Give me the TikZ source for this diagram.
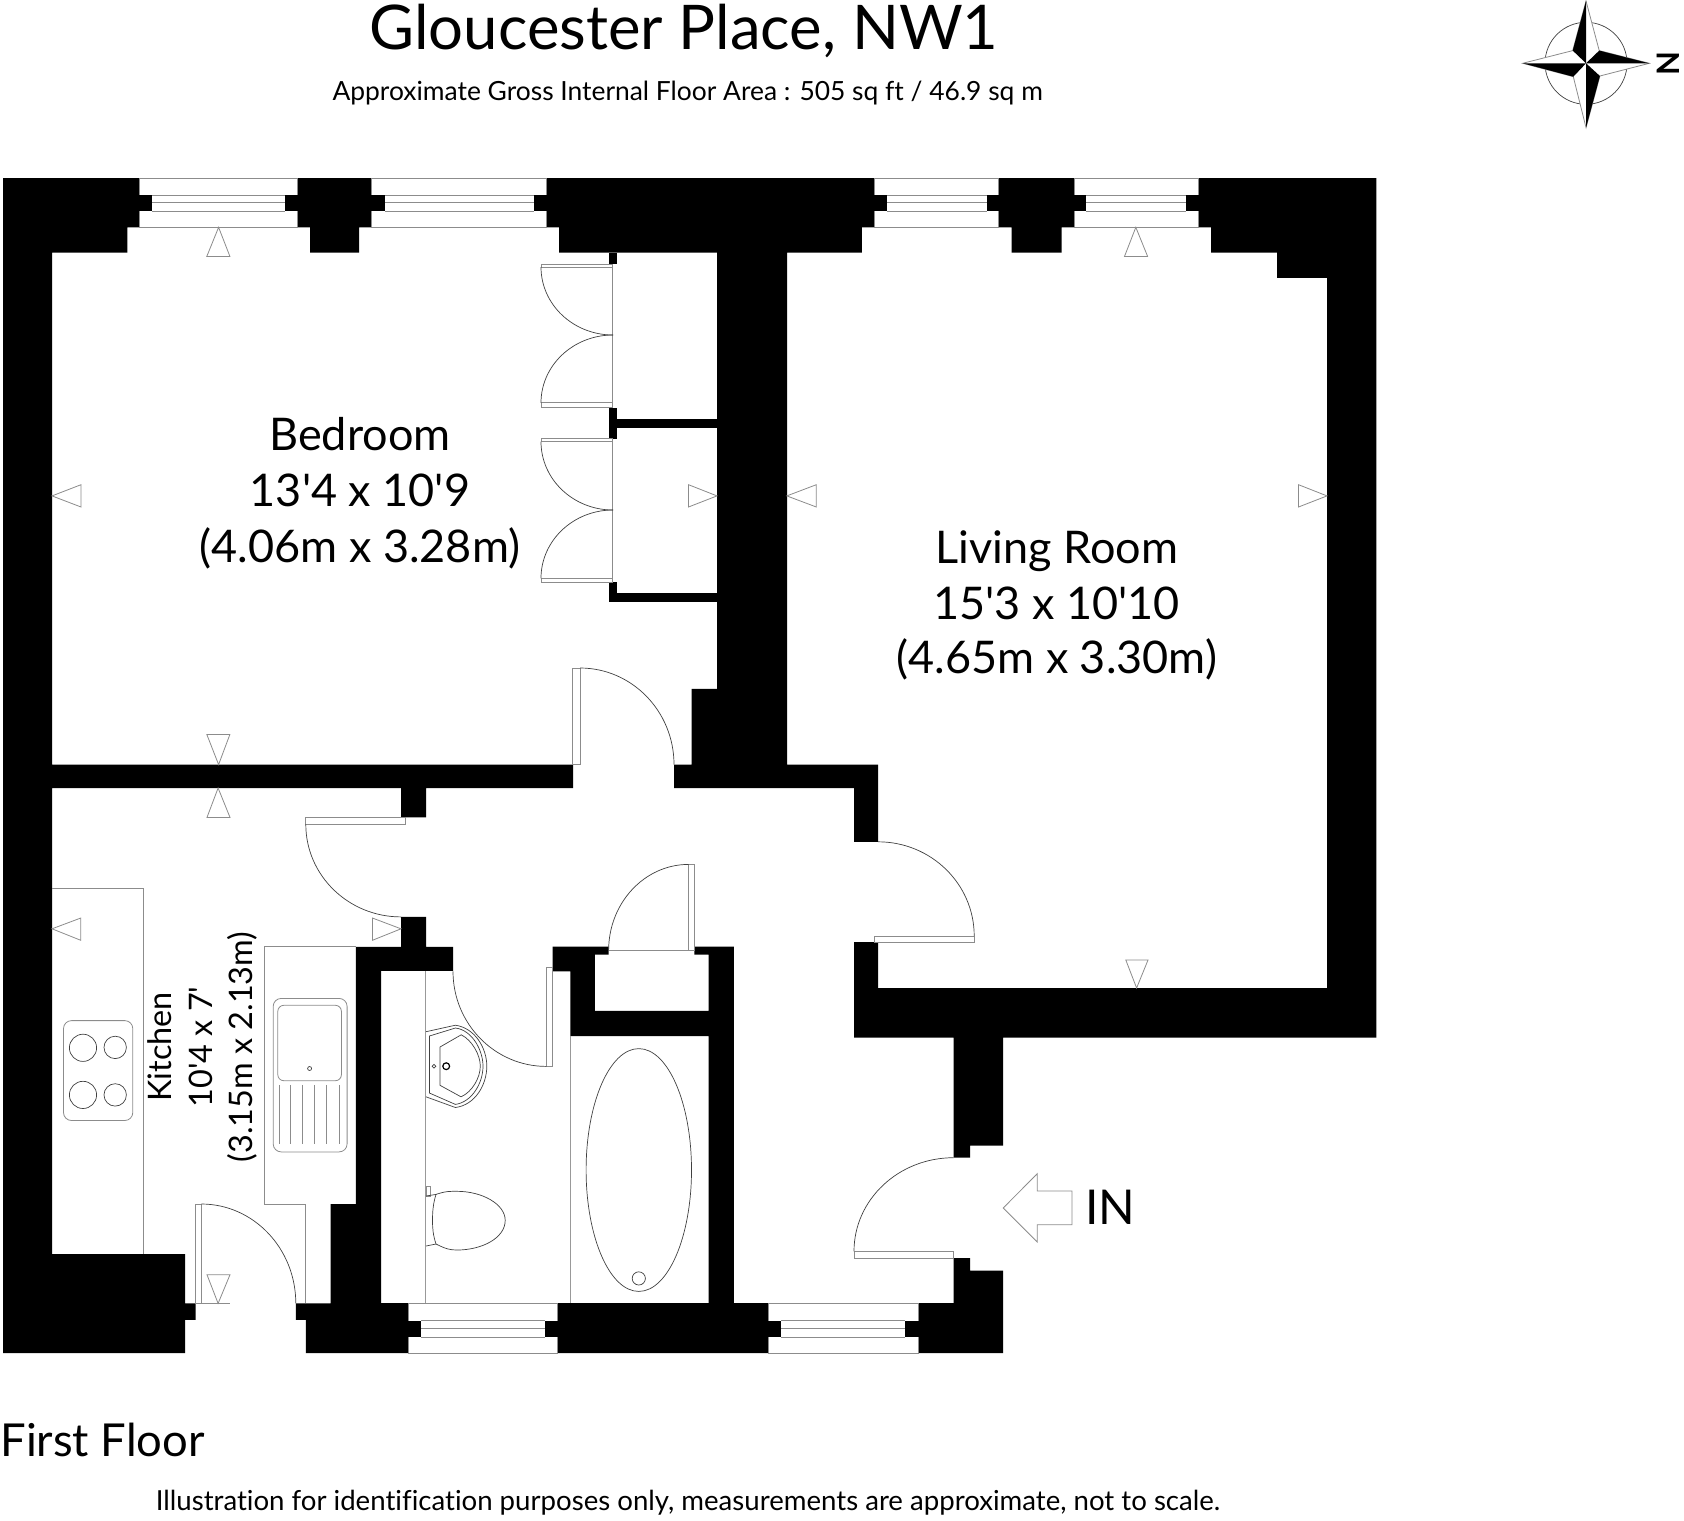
\documentclass[tikz,border=0pt]{standalone}
\usepackage{fontspec}
\setmainfont{Lato}[Ligatures={TeXOff,NoCommon}]
\tikzset{
	wall/.style={fill=black, draw=none},
	fine/.style={draw=black!45, line width=0.4pt},
	arcline/.style={draw=black!75, line width=0.35pt},
	glass/.style={fill=white, draw=black!45, line width=0.4pt},
	marker/.style={fine, fill=white, line join=miter},
	room/.style={anchor=base, inner sep=0pt, font=\fontsize{22.5}{27}\selectfont},
	kitchenlabel/.style={anchor=base, inner sep=0pt, rotate=90, font=\fontsize{16.2}{19}\selectfont}
}
\begin{document}
\begin{tikzpicture}[x=0.5pt, y=-0.5pt]
\useasboundingbox (0,0) rectangle (1684,1520);

\fill[wall] (3,178) -- (1376.4,178) -- (1376.4,1037.5) -- (1003.2,1037.5) -- (1003.2,1145.5) -- (970,1145.5) -- (970,1157.7) -- (953.5,1157.7) -- (953.5,1037.5) -- (854,1037.5) -- (854,942) -- (878,942) -- (878,988) -- (1327,988) -- (1327,277.8) -- (1277,277.8) -- (1277,252.5) -- (1211,252.5) -- (1211,227.3) -- (1061.7,227.3) -- (1061.7,252.5) -- (1011.7,252.5) -- (1011.7,227.3) -- (861.9,227.3) -- (861.9,252.5) -- (787,252.5) -- (787,764.6) -- (878,764.6) -- (878,841.8) -- (854,841.8) -- (854,788) -- (674,788) -- (674,764.6) -- (691.7,764.6) -- (691.7,688.8) -- (717,688.8) -- (717,252.5) -- (559,252.5) -- (559,227.3) -- (359,227.3) -- (359,252.5) -- (310,252.5) -- (310,227.3) -- (127.3,227.3) -- (127.3,252.5) -- (52,252.5) -- (52,764.6) -- (573,764.6) -- (573,788) -- (426,788) -- (426,817.4) -- (401,817.4) -- (401,788) -- (52,788) -- (52,1254) -- (185.2,1254) -- (185.2,1303.4) -- (195.6,1303.4) -- (195.6,1319.9) -- (185.2,1319.9) -- (185.2,1353) -- (3,1353) -- cycle;
\fill[wall] (401,916.9) -- (426,916.9) -- (426,946.8) -- (453,946.8) -- (453,970.9) -- (381.2,970.9) -- (381.2,1303) -- (708.5,1303) -- (708.5,1036) -- (570.4,1036) -- (570.4,971.3) -- (552.6,971.3) -- (552.6,946.5) -- (608.5,946.5) -- (608.5,954.6) -- (594.9,954.6) -- (594.9,1010.9) -- (708.5,1010.9) -- (708.5,954.6) -- (694.4,954.6) -- (694.4,946.5) -- (733.8,946.5) -- (733.8,1303) -- (953.5,1303) -- (953.5,1258) -- (970,1258) -- (970,1270.6) -- (1003.2,1270.6) -- (1003.2,1353) -- (305.8,1353) -- (305.8,1319.9) -- (295.8,1319.9) -- (295.8,1303.4) -- (330.7,1303.4) -- (330.7,1204) -- (355.9,1204) -- (355.9,946.8) -- (401,946.8) -- cycle;
\fill[wall] (608.5,252.5) rectangle (617,264);
\fill[wall] (608.5,408) rectangle (617,438.7);
\fill[wall] (617,418.8) rectangle (717,427.5);
\fill[wall] (608.5,582) rectangle (617,601.5);
\fill[wall] (617,593.3) rectangle (717,601.5);

\foreach \a/\b/\c/\d in {139.6/152/284.6/297.5, 371.6/385/534.4/546, 874.2/887.1/986.5/998.8, 1074/1086.4/1185.7/1198}{
	\draw[glass] (\a,178) rectangle (\d,227.3);
	\fill[wall] ([xshift=-1pt]\a,195) rectangle (\b,211);
	\fill[wall] (\c,195) rectangle ([xshift=1pt]\d,211);
	\draw[fine] (\b,195) -- (\c,195) (\b,211) -- (\c,211) (\b,202.8) -- (\c,202.8);
}
\foreach \a/\b/\c/\d in {408/421/545/557.6, 768.6/781/905.4/918.2}{
	\draw[glass] (\a,1303) rectangle (\d,1353);
	\fill[wall] ([xshift=-1pt]\a,1320.5) rectangle (\b,1337.2);
	\fill[wall] (\c,1320.5) rectangle ([xshift=1pt]\d,1337.2);
	\draw[fine] (\b,1320.5) -- (\c,1320.5) (\b,1337.2) -- (\c,1337.2) (\b,1328.5) -- (\c,1328.5);
}

\draw[fine] (612.8,264) -- (612.8,408) (612.8,438.7) -- (612.8,582);
\draw[fine] (541,264) rectangle (612.8,267) (541,402.8) rectangle (612.8,407.5);
\draw[fine] (541,438.7) rectangle (612.8,441.6) (541,578.3) rectangle (612.8,582);
\draw[arcline] (541,267) arc[start angle=180, end angle=270, x radius=36pt, y radius=34pt];
\draw[arcline] (613,335) arc[start angle=90, end angle=180, x radius=36pt, y radius=33.9pt];
\draw[arcline] (541,441.6) arc[start angle=180, end angle=270, x radius=36pt, y radius=34.2pt];
\draw[arcline] (613,510) arc[start angle=90, end angle=180, x radius=36pt, y radius=34.15pt];

\draw[fine] (572.5,668) rectangle (580,764.6);
\draw[arcline] (580,668) arc[start angle=90, end angle=0, x radius=47pt, y radius=48.3pt];
\draw[fine] (305.8,817.4) rectangle (405.7,824.3);
\draw[arcline] (305.8,824.3) arc[start angle=180, end angle=270, x radius=47.6pt, y radius=46.3pt];
\draw[fine] (874.3,936) rectangle (974.2,942);
\draw[arcline] (878,841.8) arc[start angle=90, end angle=0, x radius=48.1pt, y radius=47.1pt];
\draw[fine] (688.6,864.4) rectangle (694.4,950.6) (608.5,950.6) -- (688.6,950.6);
\draw[arcline] (688.6,864.4) arc[start angle=90, end angle=180, x radius=40pt, y radius=43.1pt];
\draw[fine] (854,1251.3) rectangle (953.5,1258);
\draw[arcline] (953.5,1157.7) arc[start angle=90, end angle=180, x radius=49.75pt, y radius=46.8pt];
\draw[fine] (546.4,966.9) rectangle (552.6,1066.4);
\draw[arcline] (453,971.3) arc[start angle=180, end angle=270, x radius=46.7pt, y radius=47.55pt];
\draw[fine] (195.6,1204) rectangle (201.3,1303.4);
\draw[arcline] (201.3,1204) arc[start angle=90, end angle=0, x radius=47.25pt, y radius=49.7pt];

\draw[marker] (218.6,227.3) -- (206.8,256.4) -- (229.9,256.4) -- cycle;
\draw[marker] (1135.8,227.3) -- (1124.5,256.4) -- (1147.6,256.4) -- cycle;
\draw[marker] (52,495.9) -- (81,484.7) -- (81,507) -- cycle;
\draw[marker] (717,495.9) -- (688.5,484.7) -- (688.5,507) -- cycle;
\draw[marker] (786.8,495.9) -- (816.3,484.7) -- (816.3,507) -- cycle;
\draw[marker] (1327,495.9) -- (1298.5,484.7) -- (1298.5,507) -- cycle;
\draw[marker] (218.6,764.6) -- (206.8,734.4) -- (229.9,734.4) -- cycle;
\draw[marker] (218.1,788) -- (207,817.4) -- (230,817.4) -- cycle;
\draw[marker] (52,928.8) -- (80.8,918) -- (80.8,940.3) -- cycle;
\draw[marker] (401,928.8) -- (372.4,918) -- (372.4,940.3) -- cycle;
\draw[marker] (218.1,1303.4) -- (207,1274.7) -- (230,1274.7) -- cycle;
\draw[fine] (201.3,1303.4) -- (230,1303.4);
\draw[marker] (1136.6,988) -- (1125.8,960) -- (1148,960) -- cycle;

\draw[fine] (52,888.6) -- (143.5,888.6) -- (143.5,1254);
\draw[fine] (355.9,946.8) -- (264.8,946.8) -- (264.8,1204) -- (305.8,1204) -- (305.8,1303.4);
\draw[fine, rounded corners=4pt] (63.5,1020.6) rectangle (132.8,1120.5);
\draw[arcline] (83,1047.8) circle[radius=6.8pt] (115.2,1047.4) circle[radius=5.6pt];
\draw[arcline] (83,1094.9) circle[radius=6.8pt] (115.2,1094.9) circle[radius=5.6pt];
\draw[fine, rounded corners=4pt] (273.2,998.4) rectangle (347.1,1151.9);
\draw[fine, rounded corners=3pt] (277.8,1005.3) rectangle (341.4,1080.7);
\draw[arcline] (309.6,1068.5) circle[radius=1pt];
\foreach \x in {279,290.1,302.3,314.6,326.8,339.5}{
	\draw[fine] (\x,1084.9) -- (\x,1143.8);
}

\draw[draw=black!40, line width=0.6pt] (425.7,970.9) -- (425.7,1303) (570.4,1036) -- (570.4,1303);
\draw[arcline] (426,1031.7) -- (455.4,1025.2) .. controls (475,1028) and (486.8,1048) .. (486.8,1066.2) .. controls (486.8,1085) and (475,1105) .. (455.4,1107.5) -- (426,1096.8);
\draw[arcline] (429.4,1036) -- (455.4,1028) .. controls (472,1030) and (483,1050) .. (483,1066.2) .. controls (483,1083) and (472,1102) .. (455.4,1104.4) -- (429.4,1093) -- cycle;
\draw[arcline] (440,1047) -- (461.2,1034.8) .. controls (472,1040) and (480.3,1055) .. (480.3,1066) .. controls (480.3,1078) and (472,1092) .. (461,1096.8) -- (440,1085.3) -- cycle;
\draw[black, line width=0.6pt] (446.2,1066.2) circle[radius=1.7pt];
\draw[arcline] (434,1066.2) circle[radius=0.9pt];
\draw[fine] (426,1186) rectangle (430,1196);
\draw[arcline] (426,1196) -- (436,1194.4) (426,1246) -- (436,1244);
\draw[arcline] (436,1194.4) .. controls (446,1191) and (450,1191.3) .. (457,1191.3) .. controls (482,1191.3) and (505.2,1204) .. (505.2,1220.4) .. controls (505.2,1238) and (482,1250) .. (457,1250) .. controls (450,1250) and (446,1249) .. (436,1244) .. controls (433,1235) and (432.5,1228) .. (432.5,1221) .. controls (432.5,1212) and (433,1204) .. (436,1194.4) -- cycle;
\draw[arcline] (638.8,1170) ellipse[x radius=26.35pt, y radius=60.7pt];
\draw[arcline] (638.8,1278.4) circle[radius=3.3pt];

\draw[fine] (1072,1191) -- (1037.2,1191) -- (1037.2,1173.7) -- (1003.2,1208) -- (1037.2,1242) -- (1037.2,1224.7) -- (1072,1224.7) -- cycle;

\draw[arcline] (1586,63.3) circle[radius=20.5pt];
\draw[fine, fill=white] (1586,1) -- (1599.2,50.6) -- (1649.3,63.3) -- (1599.9,76) -- (1586,127.7) -- (1573.3,76.7) -- (1522.7,63.3) -- (1572.7,50.6) -- cycle;
\fill[black] (1586,1) -- (1572.7,50.6) -- (1586,63.3) -- cycle;
\fill[black] (1649.3,63.3) -- (1599.2,50.6) -- (1586,63.3) -- cycle;
\fill[black] (1586,127.7) -- (1599.9,76) -- (1586,63.3) -- cycle;
\fill[black] (1522.7,63.3) -- (1573.3,76.7) -- (1586,63.3) -- cycle;
\node[rotate=90, inner sep=0pt, font=\bfseries\fontsize{15.5}{18}\selectfont] (north) at (1668,64) {N};

\node[anchor=base, inner sep=0pt, font=\fontsize{30.8}{36}\selectfont] (title) at (684,50) {Gloucester Place, NW1};
\node[anchor=base, inner sep=0pt, font=\fontsize{13.2}{16}\selectfont] (area) at (687.7,101) {Approximate Gross Internal Floor Area : 505 sq ft / 46.9 sq m};
\node[room] (bedroom) at (360,450.8) {Bedroom};
\node[room] (bedroomft) at (360,506.5) {13'4 x 10'9};
\node[room] (bedroomm) at (360,562) {(4.06m x 3.28m)};
\node[room] (living) at (1056.8,563.7) {Living Room};
\node[room] (livingft) at (1056.8,619) {15'3 x 10'10};
\node[room] (livingm) at (1056.8,673.8) {(4.65m x 3.30m)};
\node[kitchenlabel] (kitchen) at (171.4,1047) {Kitchen};
\node[kitchenlabel] (kitchenft) at (212.4,1047) {10'4 x 7'};
\node[kitchenlabel] (kitchenm) at (252.6,1047) {(3.15m x 2.13m)};
\node[anchor=base west, inner sep=0pt, font=\fontsize{24}{28}\selectfont] (entry) at (1085,1224) {IN};
\node[anchor=base west, inner sep=0pt, font=\fontsize{22.7}{27}\selectfont] (floor) at (0,1456) {First Floor};
\node[anchor=base, inner sep=0pt, font=\fontsize{13.8}{16}\selectfont] (note) at (688,1510) {Illustration for identification purposes only, measurements are approximate, not to scale.};
\end{tikzpicture}
\end{document}
